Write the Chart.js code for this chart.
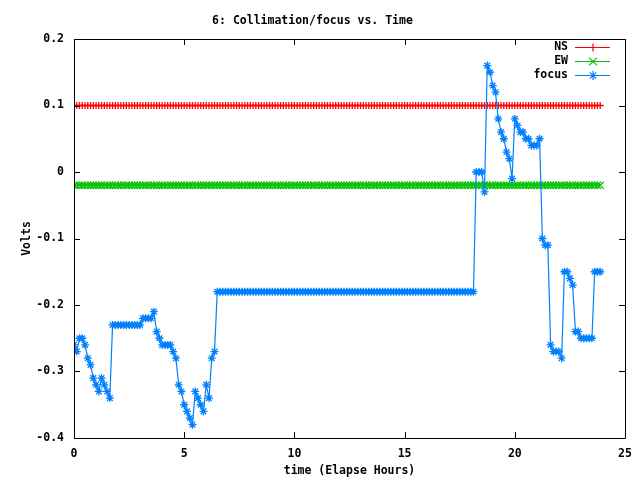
<!DOCTYPE html>
<html>
<head>
<meta charset="utf-8">
<title>6: Collimation/focus vs. Time</title>
<script src="https://cdn.jsdelivr.net/npm/chart.js@4.4.1/dist/chart.umd.min.js"></script>
<style>
    html, body { margin: 0; padding: 0; background: #fff; }
    canvas { display: block; }
</style>
</head>
<body>
<canvas id="grafica" width="640" height="480"></canvas>
<script>
// sample times (elapsed hours), one row per hour
const horas = [
    0, 0.125, 0.25, 0.375, 0.5, 0.625, 0.75, 0.875,
    1, 1.125, 1.25, 1.375, 1.5, 1.625, 1.75, 1.875,
    2, 2.125, 2.25, 2.375, 2.5, 2.625, 2.75, 2.875,
    3, 3.125, 3.25, 3.375, 3.5, 3.625, 3.75, 3.875,
    4, 4.125, 4.25, 4.375, 4.5, 4.625, 4.75, 4.875,
    5, 5.125, 5.25, 5.375, 5.5, 5.625, 5.75, 5.875,
    6, 6.125, 6.25, 6.375, 6.5, 6.625, 6.75, 6.875,
    7, 7.125, 7.25, 7.375, 7.5, 7.625, 7.75, 7.875,
    8, 8.125, 8.25, 8.375, 8.5, 8.625, 8.75, 8.875,
    9, 9.125, 9.25, 9.375, 9.5, 9.625, 9.75, 9.875,
    10, 10.125, 10.25, 10.375, 10.5, 10.625, 10.75, 10.875,
    11, 11.125, 11.25, 11.375, 11.5, 11.625, 11.75, 11.875,
    12, 12.125, 12.25, 12.375, 12.5, 12.625, 12.75, 12.875,
    13, 13.125, 13.25, 13.375, 13.5, 13.625, 13.75, 13.875,
    14, 14.125, 14.25, 14.375, 14.5, 14.625, 14.75, 14.875,
    15, 15.125, 15.25, 15.375, 15.5, 15.625, 15.75, 15.875,
    16, 16.125, 16.25, 16.375, 16.5, 16.625, 16.75, 16.875,
    17, 17.125, 17.25, 17.375, 17.5, 17.625, 17.75, 17.875,
    18, 18.125, 18.25, 18.375, 18.5, 18.625, 18.75, 18.875,
    19, 19.125, 19.25, 19.375, 19.5, 19.625, 19.75, 19.875,
    20, 20.125, 20.25, 20.375, 20.5, 20.625, 20.75, 20.875,
    21, 21.125, 21.25, 21.375, 21.5, 21.625, 21.75, 21.875,
    22, 22.125, 22.25, 22.375, 22.5, 22.625, 22.75, 22.875,
    23, 23.125, 23.25, 23.375, 23.5, 23.625, 23.75, 23.875
];

const ns_volts = [
    0.1, 0.1, 0.1, 0.1, 0.1, 0.1, 0.1, 0.1,
    0.1, 0.1, 0.1, 0.1, 0.1, 0.1, 0.1, 0.1,
    0.1, 0.1, 0.1, 0.1, 0.1, 0.1, 0.1, 0.1,
    0.1, 0.1, 0.1, 0.1, 0.1, 0.1, 0.1, 0.1,
    0.1, 0.1, 0.1, 0.1, 0.1, 0.1, 0.1, 0.1,
    0.1, 0.1, 0.1, 0.1, 0.1, 0.1, 0.1, 0.1,
    0.1, 0.1, 0.1, 0.1, 0.1, 0.1, 0.1, 0.1,
    0.1, 0.1, 0.1, 0.1, 0.1, 0.1, 0.1, 0.1,
    0.1, 0.1, 0.1, 0.1, 0.1, 0.1, 0.1, 0.1,
    0.1, 0.1, 0.1, 0.1, 0.1, 0.1, 0.1, 0.1,
    0.1, 0.1, 0.1, 0.1, 0.1, 0.1, 0.1, 0.1,
    0.1, 0.1, 0.1, 0.1, 0.1, 0.1, 0.1, 0.1,
    0.1, 0.1, 0.1, 0.1, 0.1, 0.1, 0.1, 0.1,
    0.1, 0.1, 0.1, 0.1, 0.1, 0.1, 0.1, 0.1,
    0.1, 0.1, 0.1, 0.1, 0.1, 0.1, 0.1, 0.1,
    0.1, 0.1, 0.1, 0.1, 0.1, 0.1, 0.1, 0.1,
    0.1, 0.1, 0.1, 0.1, 0.1, 0.1, 0.1, 0.1,
    0.1, 0.1, 0.1, 0.1, 0.1, 0.1, 0.1, 0.1,
    0.1, 0.1, 0.1, 0.1, 0.1, 0.1, 0.1, 0.1,
    0.1, 0.1, 0.1, 0.1, 0.1, 0.1, 0.1, 0.1,
    0.1, 0.1, 0.1, 0.1, 0.1, 0.1, 0.1, 0.1,
    0.1, 0.1, 0.1, 0.1, 0.1, 0.1, 0.1, 0.1,
    0.1, 0.1, 0.1, 0.1, 0.1, 0.1, 0.1, 0.1,
    0.1, 0.1, 0.1, 0.1, 0.1, 0.1, 0.1, 0.1
];

const ew_volts = [
    -0.02, -0.02, -0.02, -0.02, -0.02, -0.02, -0.02, -0.02,
    -0.02, -0.02, -0.02, -0.02, -0.02, -0.02, -0.02, -0.02,
    -0.02, -0.02, -0.02, -0.02, -0.02, -0.02, -0.02, -0.02,
    -0.02, -0.02, -0.02, -0.02, -0.02, -0.02, -0.02, -0.02,
    -0.02, -0.02, -0.02, -0.02, -0.02, -0.02, -0.02, -0.02,
    -0.02, -0.02, -0.02, -0.02, -0.02, -0.02, -0.02, -0.02,
    -0.02, -0.02, -0.02, -0.02, -0.02, -0.02, -0.02, -0.02,
    -0.02, -0.02, -0.02, -0.02, -0.02, -0.02, -0.02, -0.02,
    -0.02, -0.02, -0.02, -0.02, -0.02, -0.02, -0.02, -0.02,
    -0.02, -0.02, -0.02, -0.02, -0.02, -0.02, -0.02, -0.02,
    -0.02, -0.02, -0.02, -0.02, -0.02, -0.02, -0.02, -0.02,
    -0.02, -0.02, -0.02, -0.02, -0.02, -0.02, -0.02, -0.02,
    -0.02, -0.02, -0.02, -0.02, -0.02, -0.02, -0.02, -0.02,
    -0.02, -0.02, -0.02, -0.02, -0.02, -0.02, -0.02, -0.02,
    -0.02, -0.02, -0.02, -0.02, -0.02, -0.02, -0.02, -0.02,
    -0.02, -0.02, -0.02, -0.02, -0.02, -0.02, -0.02, -0.02,
    -0.02, -0.02, -0.02, -0.02, -0.02, -0.02, -0.02, -0.02,
    -0.02, -0.02, -0.02, -0.02, -0.02, -0.02, -0.02, -0.02,
    -0.02, -0.02, -0.02, -0.02, -0.02, -0.02, -0.02, -0.02,
    -0.02, -0.02, -0.02, -0.02, -0.02, -0.02, -0.02, -0.02,
    -0.02, -0.02, -0.02, -0.02, -0.02, -0.02, -0.02, -0.02,
    -0.02, -0.02, -0.02, -0.02, -0.02, -0.02, -0.02, -0.02,
    -0.02, -0.02, -0.02, -0.02, -0.02, -0.02, -0.02, -0.02,
    -0.02, -0.02, -0.02, -0.02, -0.02, -0.02, -0.02, -0.02
];

const focus_volts = [
    -0.26, -0.27, -0.25, -0.25, -0.26, -0.28, -0.29, -0.31,
    -0.32, -0.33, -0.31, -0.32, -0.33, -0.34, -0.23, -0.23,
    -0.23, -0.23, -0.23, -0.23, -0.23, -0.23, -0.23, -0.23,
    -0.23, -0.22, -0.22, -0.22, -0.22, -0.21, -0.24, -0.25,
    -0.26, -0.26, -0.26, -0.26, -0.27, -0.28, -0.32, -0.33,
    -0.35, -0.36, -0.37, -0.38, -0.33, -0.34, -0.35, -0.36,
    -0.32, -0.34, -0.28, -0.27, -0.18, -0.18, -0.18, -0.18,
    -0.18, -0.18, -0.18, -0.18, -0.18, -0.18, -0.18, -0.18,
    -0.18, -0.18, -0.18, -0.18, -0.18, -0.18, -0.18, -0.18,
    -0.18, -0.18, -0.18, -0.18, -0.18, -0.18, -0.18, -0.18,
    -0.18, -0.18, -0.18, -0.18, -0.18, -0.18, -0.18, -0.18,
    -0.18, -0.18, -0.18, -0.18, -0.18, -0.18, -0.18, -0.18,
    -0.18, -0.18, -0.18, -0.18, -0.18, -0.18, -0.18, -0.18,
    -0.18, -0.18, -0.18, -0.18, -0.18, -0.18, -0.18, -0.18,
    -0.18, -0.18, -0.18, -0.18, -0.18, -0.18, -0.18, -0.18,
    -0.18, -0.18, -0.18, -0.18, -0.18, -0.18, -0.18, -0.18,
    -0.18, -0.18, -0.18, -0.18, -0.18, -0.18, -0.18, -0.18,
    -0.18, -0.18, -0.18, -0.18, -0.18, -0.18, -0.18, -0.18,
    -0.18, -0.18, 0, 0, 0, -0.03, 0.16, 0.15,
    0.13, 0.12, 0.08, 0.06, 0.05, 0.03, 0.02, -0.01,
    0.08, 0.07, 0.06, 0.06, 0.05, 0.05, 0.04, 0.04,
    0.04, 0.05, -0.10, -0.11, -0.11, -0.26, -0.27, -0.27,
    -0.27, -0.28, -0.15, -0.15, -0.16, -0.17, -0.24, -0.24,
    -0.25, -0.25, -0.25, -0.25, -0.25, -0.15, -0.15, -0.15
];

const x_ticks = [0, 5, 10, 15, 20, 25];
const y_ticks = [-0.4, -0.3, -0.2, -0.1, 0, 0.1, 0.2];

const fuente = { family: "'DejaVu Sans Mono', monospace", size: 11.5, weight: 'bold' };

function puntos(valores) {
    return horas.map((h, i) => ({ x: h, y: valores[i] }));
}

// gnuplot style: full border, inward ticks on all four sides, key at top right
const marco_gnuplot = {
    id: 'marco_gnuplot',
    afterDraw(chart) {
        const ctx = chart.ctx;
        const a = chart.chartArea;
        const sx = chart.scales.x;
        const sy = chart.scales.y;
        ctx.save();
        ctx.strokeStyle = '#000';
        ctx.lineWidth = 1;
        ctx.beginPath();
        ctx.rect(Math.round(a.left) + 0.5, Math.round(a.top) + 0.5,
                 Math.round(a.right - a.left), Math.round(a.bottom - a.top));
        x_ticks.forEach(v => {
            const px = Math.round(sx.getPixelForValue(v)) + 0.5;
            ctx.moveTo(px, a.bottom); ctx.lineTo(px, a.bottom - 6);
            ctx.moveTo(px, a.top); ctx.lineTo(px, a.top + 6);
        });
        y_ticks.forEach(v => {
            const py = Math.round(sy.getPixelForValue(v)) + 0.5;
            ctx.moveTo(a.left, py); ctx.lineTo(a.left + 6, py);
            ctx.moveTo(a.right, py); ctx.lineTo(a.right - 6, py);
        });
        ctx.stroke();

        // key
        ctx.font = 'bold 11.5px "DejaVu Sans Mono", monospace';
        ctx.textAlign = 'right';
        ctx.textBaseline = 'middle';
        chart.data.datasets.forEach((ds, i) => {
            const y = Math.round(a.top + 8 + i * 14) + 0.5;
            ctx.fillStyle = '#000';
            ctx.fillText(ds.label, a.right - 57, y);
            ctx.strokeStyle = ds.borderColor;
            ctx.fillStyle = ds.borderColor;
            ctx.lineWidth = 1.2;
            ctx.beginPath();
            ctx.moveTo(a.right - 50, y);
            ctx.lineTo(a.right - 15, y);
            ctx.stroke();
            Chart.helpers.drawPoint(ctx, {
                pointStyle: ds.pointStyle, radius: ds.pointRadius + 0.5, borderWidth: 1.2, rotation: 0
            }, a.right - 32, y);
        });
        ctx.restore();
    }
};

new Chart(document.getElementById('grafica'), {
    type: 'line',
    data: {
        datasets: [
            {
                label: 'NS', data: puntos(ns_volts), order: 3,
                borderColor: '#ff0000', backgroundColor: '#ff0000', borderWidth: 1,
                pointStyle: 'cross', pointRadius: 3.5, pointBorderWidth: 1.3, tension: 0
            },
            {
                label: 'EW', data: puntos(ew_volts), order: 2,
                borderColor: '#00c000', backgroundColor: '#00c000', borderWidth: 1,
                pointStyle: 'crossRot', pointRadius: 5, pointBorderWidth: 1.3, tension: 0
            },
            {
                label: 'focus', data: puntos(focus_volts), order: 1,
                borderColor: '#0080ff', backgroundColor: '#0080ff', borderWidth: 1.2,
                pointStyle: 'star', pointRadius: 4, pointBorderWidth: 1.3, tension: 0
            }
        ]
    },
    options: {
        responsive: false,
        animation: false,
        layout: { padding: { left: 0, right: 15, top: 0, bottom: 0 } },
        plugins: {
            legend: { display: false },
            tooltip: { enabled: false },
            title: {
                display: true,
                text: '6: Collimation/focus vs. Time',
                color: '#000',
                font: fuente,
                padding: { top: 14, bottom: 11.2 }
            }
        },
        scales: {
            x: {
                type: 'linear',
                min: 0, max: 25,
                afterBuildTicks: (scale) => { scale.ticks = x_ticks.map(v => ({ value: v })); },
                afterFit: (scale) => { scale.height = 42; },
                grid: { display: false },
                border: { display: false },
                ticks: { color: '#000', font: fuente, padding: 1, maxRotation: 0 },
                title: { display: true, text: 'time (Elapse Hours)', color: '#000', font: fuente, padding: { top: 2, bottom: 2 } }
            },
            y: {
                type: 'linear',
                min: -0.4, max: 0.2,
                afterBuildTicks: (scale) => { scale.ticks = y_ticks.map(v => ({ value: v })); },
                afterFit: (scale) => { scale.width = 74; },
                grid: { display: false },
                border: { display: false },
                ticks: {
                    color: '#000', font: fuente, padding: 2,
                    callback: (v) => String(Math.round(v * 10) / 10)
                },
                title: { display: true, text: 'Volts', color: '#000', font: fuente, padding: { top: 20, bottom: 20 } }
            }
        }
    },
    plugins: [marco_gnuplot]
});
</script>
</body>
</html>
